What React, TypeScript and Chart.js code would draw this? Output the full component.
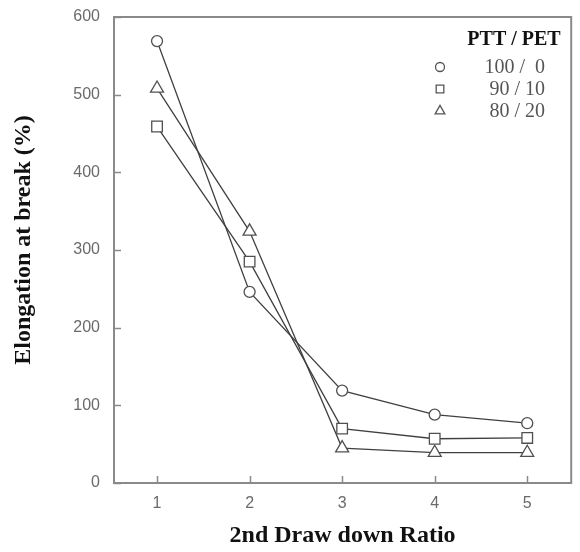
import React, { useEffect, useRef } from "react";
import { Chart, registerables } from "chart.js";

Chart.register(...registerables);

// ---- data ----
const drawRatios = [1, 2, 3, 4, 5];
const ptt100 = [569, 246, 119, 88, 77];
const ptt90 = [459, 285, 70, 57, 58];
const ptt80 = [508, 324, 45, 39, 39];
const seriesLabels = ["100 /  0", "90 / 10", "80 / 20"];
const seriesStyles = ["circle", "rect", "triangle"];
const yTickValues = [0, 100, 200, 300, 400, 500, 600];
const legendTitle = "PTT / PET";
const xTitle = "2nd Draw down Ratio";
const yTitle = "Elongation at break (%)";

const SERIF = "'Liberation Serif', 'Times New Roman', serif";
const SANS = "'Liberation Sans', Arial, sans-serif";
const AXIS_GRAY = "#8a8a8a";
const LINE_COLOR = "#404040";

function drawMarker(ctx: CanvasRenderingContext2D, style: string, x: number, y: number, r: number) {
  ctx.beginPath();
  if (style === "circle") {
    ctx.arc(x, y, r, 0, Math.PI * 2);
  } else if (style === "rect") {
    const s = r * 0.85;
    ctx.rect(x - s, y - s, 2 * s, 2 * s);
  } else {
    const t = r * 1.25;
    ctx.moveTo(x, y - t);
    ctx.lineTo(x + t * 0.866, y + t * 0.5);
    ctx.lineTo(x - t * 0.866, y + t * 0.5);
    ctx.closePath();
  }
  ctx.fillStyle = "#fff";
  ctx.fill();
  ctx.stroke();
}

const framePlugin = {
  id: "frameAndLegend",
  beforeDatasetsDraw(chart: any) {
    const { ctx, chartArea } = chart;
    const { left, right, top, bottom } = chartArea;
    ctx.save();
    ctx.strokeStyle = AXIS_GRAY;
    ctx.lineWidth = 2;
    ctx.strokeRect(left, top, right - left, bottom - top);
    ctx.lineWidth = 1.5;
    const xs = chart.scales.x;
    const ys = chart.scales.y;
    ctx.beginPath();
    for (const v of drawRatios) {
      const px = Math.round(xs.getPixelForValue(v)) + 0.5;
      ctx.moveTo(px, bottom);
      ctx.lineTo(px, bottom - 7);
    }
    for (const v of yTickValues) {
      const py = Math.round(ys.getPixelForValue(v)) + 0.5;
      ctx.moveTo(left, py);
      ctx.lineTo(left + 7, py);
    }
    ctx.stroke();
    ctx.restore();
  },
  afterDraw(chart: any) {
    const { ctx } = chart;
    ctx.save();
    // y-axis title
    ctx.translate(24, 240);
    ctx.rotate(-Math.PI / 2);
    ctx.fillStyle = "#111";
    ctx.font = `bold 24px ${SERIF}`;
    ctx.textAlign = "center";
    ctx.textBaseline = "middle";
    ctx.fillText(yTitle, 0, 0);
    ctx.restore();

    // legend
    ctx.save();
    ctx.font = `bold 20px ${SERIF}`;
    ctx.fillStyle = "#111";
    ctx.textAlign = "center";
    ctx.textBaseline = "middle";
    ctx.fillText(legendTitle, 514, 40);
    const rowsY = [68, 90, 112];
    ctx.font = `20px ${SERIF}`;
    ctx.textAlign = "right";
    for (let i = 0; i < seriesLabels.length; i++) {
      ctx.fillStyle = "#555";
      ctx.fillText(seriesLabels[i], 545, rowsY[i]);
      ctx.strokeStyle = "#555";
      ctx.lineWidth = 1.3;
      drawMarker(ctx, seriesStyles[i], 440, rowsY[i] - 1, 4.5);
    }
    ctx.restore();
  },
};

export default function App() {
  const canvasRef = useRef<HTMLCanvasElement | null>(null);

  useEffect(() => {
    if (!canvasRef.current) return;
    const series = [ptt100, ptt90, ptt80];
    const radii = [5.5, 7.5, 7.5];
    const datasets = series.map((vals, i) => ({
      label: seriesLabels[i],
      data: drawRatios.map((x, j) => ({ x, y: vals[j] })),
      borderColor: LINE_COLOR,
      borderWidth: 1.3,
      pointStyle: seriesStyles[i] as any,
      pointRadius: radii[i],
      pointBorderColor: "#505050",
      pointBorderWidth: 1.3,
      pointBackgroundColor: "#ffffff",
      fill: false,
      tension: 0,
      clip: false as any,
    }));

    const chart = new Chart(canvasRef.current, {
      type: "line",
      data: { datasets },
      options: {
        animation: false,
        responsive: false,
        devicePixelRatio: 1,
        layout: { padding: { top: 17, right: 7, left: 0, bottom: 0 } },
        plugins: { legend: { display: false }, tooltip: { enabled: false } },
        scales: {
          x: {
            type: "linear",
            min: 0.535,
            max: 5.475,
            grid: { display: false },
            border: { display: false },
            afterBuildTicks: (scale: any) => {
              scale.ticks = drawRatios.map((v) => ({ value: v }));
            },
            afterFit: (scale: any) => {
              scale.height = 69;
              scale.paddingLeft = 0;
              scale.paddingRight = 0;
            },
            ticks: {
              color: "#6a6a6a",
              font: { family: SANS, size: 16 },
              padding: 3,
              callback: (v: any) => String(v),
            },
            title: {
              display: true,
              text: xTitle,
              color: "#111",
              font: { family: SERIF, size: 24, weight: "bold" },
              padding: { top: 0, bottom: 2 },
            },
          },
          y: {
            type: "linear",
            min: 0,
            max: 600,
            grid: { display: false },
            border: { display: false },
            afterBuildTicks: (scale: any) => {
              scale.ticks = yTickValues.map((v) => ({ value: v }));
            },
            afterFit: (scale: any) => {
              scale.width = 114;
              scale.paddingTop = 0;
              scale.paddingBottom = 0;
            },
            ticks: {
              color: "#6a6a6a",
              font: { family: SANS, size: 16 },
              padding: 6,
              callback: (v: any) => String(v),
            },
          },
        },
      },
      plugins: [framePlugin],
    });
    return () => chart.destroy();
  }, []);

  return (
    <div style={{ position: "absolute", left: 0, top: 0, width: 580, height: 552, background: "#fff" }}>
      <canvas ref={canvasRef} width={580} height={552} style={{ display: "block" }} />
    </div>
  );
}
